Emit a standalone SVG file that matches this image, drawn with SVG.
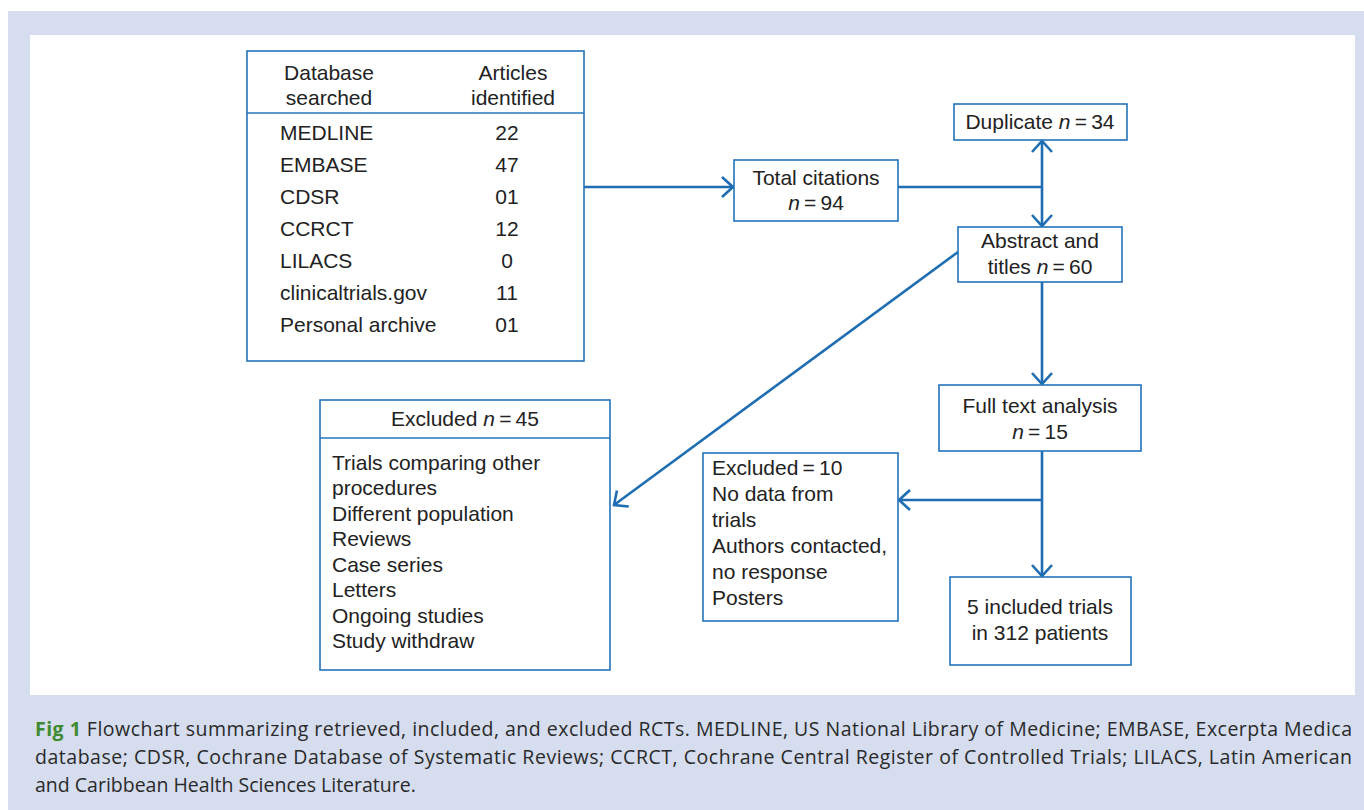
<svg xmlns="http://www.w3.org/2000/svg" width="1364" height="810" viewBox="0 0 1364 810">
<style>
.box{fill:#fff;stroke:#2474bb;stroke-width:1.6}
.t{font-family:"Liberation Sans",Arial,sans-serif;font-size:21px;fill:#222}
.c{text-anchor:middle}
.i{font-style:italic}
.con{fill:none;stroke:#1f6db3;stroke-width:2.6}
.cap{font-family:"Open Sans","DejaVu Sans",sans-serif;font-size:19.5px;fill:#2a2a2a}
.fig{font-weight:bold;fill:#3f8a2f}
</style>
<defs>
<marker id="ah" markerUnits="userSpaceOnUse" markerWidth="16" markerHeight="26" viewBox="0 0 16 26" refX="13" refY="13" orient="auto">
<path d="M2,3 L13,13 L2,23" fill="none" stroke="#1f6db3" stroke-width="2.6"/>
</marker>
</defs>
<rect x="8" y="11" width="1356" height="799" fill="#d5ddef"/>
<rect x="30" y="35" width="1325" height="660" fill="#fff"/>

<g id="connectors">
<path class="con" d="M584,187 H733" marker-end="url(#ah)"/>
<path class="con" d="M898,187 H1042"/>
<path class="con" d="M1042,187 V141" marker-end="url(#ah)"/>
<path class="con" d="M1042,187 V226" marker-end="url(#ah)"/>
<path class="con" d="M958,252 L614,505" marker-end="url(#ah)"/>
<path class="con" d="M1042,282 V384" marker-end="url(#ah)"/>
<path class="con" d="M1042,451 V576" marker-end="url(#ah)"/>
<path class="con" d="M1042,500 H899" marker-end="url(#ah)"/>
</g>

<g id="databases">
<rect class="box" x="247" y="51" width="337" height="310"/>
<line x1="247" y1="113" x2="584" y2="113" stroke="#2474bb" stroke-width="1.6"/>
<text class="t c" x="329" y="80">Database</text>
<text class="t c" x="329" y="105">searched</text>
<text class="t c" x="513" y="80">Articles</text>
<text class="t c" x="513" y="105">identified</text>
<text class="t" x="280" y="140">MEDLINE</text>
<text class="t" x="280" y="172">EMBASE</text>
<text class="t" x="280" y="204">CDSR</text>
<text class="t" x="280" y="236">CCRCT</text>
<text class="t" x="280" y="268">LILACS</text>
<text class="t" x="280" y="300">clinicaltrials.gov</text>
<text class="t" x="280" y="332">Personal archive</text>
<text class="t c" x="507" y="140">22</text>
<text class="t c" x="507" y="172">47</text>
<text class="t c" x="507" y="204">01</text>
<text class="t c" x="507" y="236">12</text>
<text class="t c" x="507" y="268">0</text>
<text class="t c" x="507" y="300">11</text>
<text class="t c" x="507" y="332">01</text>
</g>

<g id="total">
<rect class="box" x="734" y="160" width="164" height="61"/>
<text class="t c" x="816" y="185">Total citations</text>
<text class="t c" x="816" y="210"><tspan class="i">n</tspan>&#8201;=&#8201;94</text>
</g>

<g id="duplicate">
<rect class="box" x="954" y="104" width="173" height="36"/>
<text class="t c" x="1040" y="129">Duplicate <tspan class="i">n</tspan>&#8201;=&#8201;34</text>
</g>

<g id="abstract">
<rect class="box" x="958" y="227" width="164" height="55"/>
<text class="t c" x="1040" y="248">Abstract and</text>
<text class="t c" x="1040" y="274">titles <tspan class="i">n</tspan>&#8201;=&#8201;60</text>
</g>

<g id="fulltext">
<rect class="box" x="939" y="385" width="202" height="66"/>
<text class="t c" x="1040" y="413">Full text analysis</text>
<text class="t c" x="1040" y="439"><tspan class="i">n</tspan>&#8201;=&#8201;15</text>
</g>

<g id="excluded10">
<rect class="box" x="703" y="453" width="195" height="168"/>
<text class="t" x="712" y="475">Excluded&#8201;=&#8201;10</text>
<text class="t" x="712" y="501">No data from</text>
<text class="t" x="712" y="527">trials</text>
<text class="t" x="712" y="553">Authors contacted,</text>
<text class="t" x="712" y="579">no response</text>
<text class="t" x="712" y="605">Posters</text>
</g>

<g id="included">
<rect class="box" x="950" y="577" width="181" height="88"/>
<text class="t c" x="1040" y="614">5 included trials</text>
<text class="t c" x="1040" y="640">in 312 patients</text>
</g>

<g id="excluded45">
<rect class="box" x="320" y="400" width="290" height="270"/>
<line x1="320" y1="438" x2="610" y2="438" stroke="#2474bb" stroke-width="1.6"/>
<text class="t c" x="465" y="426">Excluded <tspan class="i">n</tspan>&#8201;=&#8201;45</text>
<text class="t" x="332" y="470">Trials comparing other</text>
<text class="t" x="332" y="495">procedures</text>
<text class="t" x="332" y="521">Different population</text>
<text class="t" x="332" y="546">Reviews</text>
<text class="t" x="332" y="572">Case series</text>
<text class="t" x="332" y="597">Letters</text>
<text class="t" x="332" y="623">Ongoing studies</text>
<text class="t" x="332" y="648">Study withdraw</text>
</g>

<g id="caption">
<text class="cap" x="35" y="736" textLength="1317" lengthAdjust="spacing"><tspan class="fig">Fig 1</tspan> Flowchart summarizing retrieved, included, and excluded RCTs. MEDLINE, US National Library of Medicine; EMBASE, Excerpta Medica</text>
<text class="cap" x="35" y="764" textLength="1317" lengthAdjust="spacing">database; CDSR, Cochrane Database of Systematic Reviews; CCRCT, Cochrane Central Register of Controlled Trials; LILACS, Latin American</text>
<text class="cap" x="35" y="792">and Caribbean Health Sciences Literature.</text>
</g>
</svg>
